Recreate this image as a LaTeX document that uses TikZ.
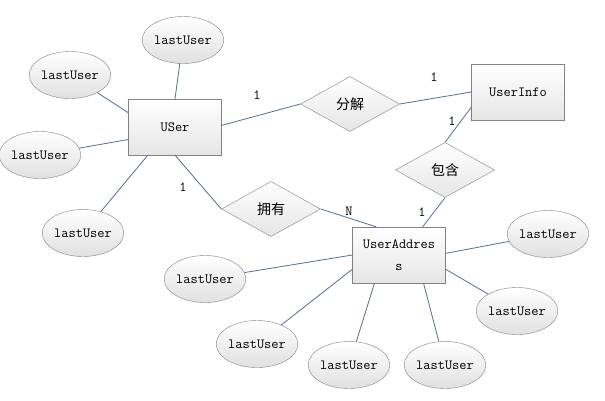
\documentclass[tikz,border=0pt]{standalone}
\usepackage{fontspec}
\newfontfamily\cjk{Noto Sans CJK SC}
\usetikzlibrary{shapes.geometric}
\definecolor{edgeblue}{RGB}{84,110,150}
\definecolor{rim}{RGB}{130,130,130}
\begin{document}
\begin{tikzpicture}[x=1pt,y=-1pt,
  ent/.style={draw=rim,top color=white,bottom color=black!10,minimum width=93pt,minimum height=56pt,inner sep=0pt,align=center,font=\ttfamily\fontsize{14}{22}\selectfont},
  rel/.style={diamond,draw=rim,top color=white,bottom color=black!10,minimum width=99pt,minimum height=55pt,inner sep=0pt,font=\cjk\fontsize{14}{16}\selectfont},
  attr/.style={ellipse,draw=rim,top color=white,bottom color=black!12,minimum width=74pt,minimum height=47pt,inner sep=0pt,font=\ttfamily\fontsize{14}{15}\selectfont},
  lnk/.style={draw=edgeblue,line width=0.8pt},
  card/.style={inner sep=0pt,font=\ttfamily\fontsize{14}{15}\selectfont}]
  \useasboundingbox[fill=white] (0,0) rectangle (605,400);
  \node[ent] (user) at (175,127) {USer};
  \node[ent] (info) at (518,92) {UserInfo};
  \node[ent] (ua) at (399,255) {UserAddres\\s};
  \node[rel] (split) at (350,104) {分解};
  \node[rel] (holds) at (445,170) {包含};
  \node[rel] (owns) at (271,209) {拥有};
  \draw[lnk] (user.2) -- (split.west);
  \draw[lnk] (split.east) -- (info.west);
  \draw[lnk] (info.198) -- (holds.north);
  \draw[lnk] (holds.south) -- (ua.50);
  \draw[lnk] (user.270) -- (owns.west);
  \draw[lnk] (owns.east) -- (ua.129);
  \foreach \nm/\px/\py/\own in {a1/183/40/user.90, a2/70/75/user.163, a3/40/155/user.195, a4/83/233/user.226,
      b1/548/234/ua.2, b2/205/279/ua.180, b3/517/311/ua.343, b4/257/344/ua.197, b5/349/365/ua.229, b6/445/365/ua.311}
    {\node[attr] (\nm) at (\px,\py) {lastUser};
     \draw[lnk] (\nm) -- (\own);}
  \node[card] (c1) at (257,95) {1};
  \node[card] (c2) at (434,77) {1};
  \node[card] (c3) at (452,121) {1};
  \node[card] (c4) at (183,187) {1};
  \node[card] (c5) at (422,212) {1};
  \node[card] (c6) at (349,211) {N};
\end{tikzpicture}
\end{document}
